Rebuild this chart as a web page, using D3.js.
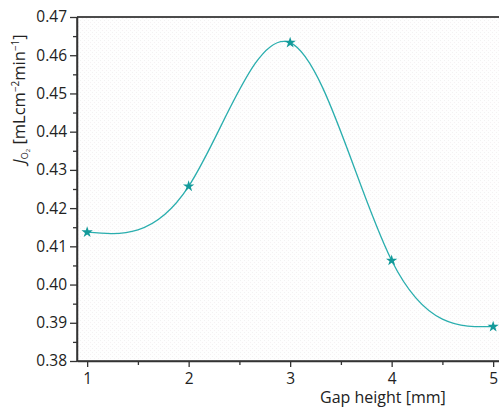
<!DOCTYPE html>
<html>
<head>
<meta charset="utf-8">
<script src="https://cdn.jsdelivr.net/npm/d3@7"></script>
<style>
  body { margin: 0; background: #fff; }
  svg { display: block; font-family: "Open Sans", "Noto Sans", sans-serif; }
</style>
</head>
<body>
<div id="chart"></div>
<script>
// Oxygen flux vs gap height

// ---------- Data ----------
const gapHeight = [1, 2, 3, 4, 5];
const flux = [0.4137, 0.4257, 0.4633, 0.4063, 0.3890];
const xTicks = [1, 2, 3, 4, 5];
const yTicks = [0.38, 0.39, 0.40, 0.41, 0.42, 0.43, 0.44, 0.45, 0.46, 0.47];

const width = 499, height = 407;
const padLeft = 77, padTop = 17, padBottom = 361;

const svg = d3.select('#chart').append('svg')
  .attr('width', width)
  .attr('height', height);

const x = d3.scaleLinear().domain([0.9, 5.1]).range([padLeft, padLeft + 4.2 * 101.5]);
const y = d3.scaleLinear().domain([0.38, 0.47]).range([padBottom, padTop]);

// faint speckled background
const defs = svg.append('defs');
const pat = defs.append('pattern')
  .attr('id', 'dots')
  .attr('width', 4).attr('height', 4)
  .attr('patternUnits', 'userSpaceOnUse');
pat.append('rect').attr('width', 4).attr('height', 4).attr('fill', '#fefefe');
pat.append('rect').attr('x', 0).attr('y', 0).attr('width', 1).attr('height', 1).attr('fill', '#f2f2f2');
pat.append('rect').attr('x', 2).attr('y', 2).attr('width', 1).attr('height', 1).attr('fill', '#f6f1f3');

svg.append('rect')
  .attr('x', padLeft).attr('y', padTop)
  .attr('width', width - padLeft).attr('height', padBottom - padTop)
  .attr('fill', 'url(#dots)');

// top border line
svg.append('line')
  .attr('x1', padLeft).attr('x2', width)
  .attr('y1', padTop).attr('y2', padTop)
  .attr('stroke', '#111').attr('stroke-width', 1.5);

// ---------- Axes ----------
const yAxis = svg.append('g')
  .attr('transform', `translate(${padLeft},0)`)
  .call(d3.axisLeft(y).tickValues(yTicks).tickFormat(d3.format('.2f')).tickSize(7).tickSizeOuter(0));

const yMinor = svg.append('g')
  .attr('transform', `translate(${padLeft},0)`)
  .call(d3.axisLeft(y).tickValues(d3.range(0.385, 0.47, 0.01)).tickFormat('').tickSize(4).tickSizeOuter(0));

const xAxis = svg.append('g')
  .attr('transform', `translate(0,${padBottom})`)
  .call(d3.axisBottom(x).tickValues(xTicks).tickFormat(d3.format('d')).tickSize(6).tickSizeOuter(0));

const xMinor = svg.append('g')
  .attr('transform', `translate(0,${padBottom})`)
  .call(d3.axisBottom(x).tickValues([1.5, 2.5, 3.5, 4.5]).tickFormat('').tickSize(4).tickSizeOuter(0));

[yAxis, yMinor, xAxis, xMinor].forEach(g => {
  g.select('.domain').attr('stroke', '#333').attr('stroke-width', 1.5);
  g.selectAll('.tick line').attr('stroke', '#333').attr('stroke-width', 1.3);
  g.selectAll('.tick text').attr('font-size', 15.5).attr('fill', '#222')
    .attr('font-family', '"Open Sans", sans-serif');
});
yAxis.selectAll('.tick text').attr('x', -10);
xAxis.selectAll('.tick text').attr('y', 22.5).attr('dy', 0);
xAxis.select('.domain').attr('d', `M${padLeft},0H${width}`);
yAxis.select('.domain').attr('d', `M0,${padTop}V${padBottom}`);

// ---------- Curve ----------
const pts = gapHeight.map((g, k) => [g, flux[k]]);
svg.append('path')
  .datum(pts)
  .attr('fill', 'none')
  .attr('stroke', '#2aaeae')
  .attr('stroke-width', 1.3)
  .attr('d', d3.line().x(d => x(d[0])).y(d => y(d[1])).curve(d3.curveNatural));

svg.selectAll('.pt')
  .data(pts)
  .enter().append('path')
  .attr('class', 'pt')
  .attr('transform', d => `translate(${x(d[0])},${y(d[1])})`)
  .attr('d', d3.symbol().type(d3.symbolStar).size(40))
  .attr('fill', '#139a9a');

// ---------- Labels ----------
svg.append('text')
  .attr('x', 320).attr('y', 402.5)
  .attr('font-size', 16).attr('fill', '#222')
  .text('Gap height [mm]');

const yl = svg.append('text')
  .attr('transform', `translate(25,99) rotate(-90)`)
  .attr('text-anchor', 'middle')
  .attr('font-size', 16.5).attr('fill', '#222');
yl.append('tspan').attr('font-style', 'italic').text('J');
yl.append('tspan').attr('font-size', 9).attr('dy', 3).text('O');
yl.append('tspan').attr('font-size', 6).attr('dy', 1.5).text('2');
yl.append('tspan').attr('dy', -4.5).text(' [mLcm');
yl.append('tspan').attr('font-size', 10).attr('dy', -6).text('−2');
yl.append('tspan').attr('dy', 6).text('min');
yl.append('tspan').attr('font-size', 10).attr('dy', -6).text('−1');
yl.append('tspan').attr('dy', 6).text(']');
</script>
</body>
</html>
